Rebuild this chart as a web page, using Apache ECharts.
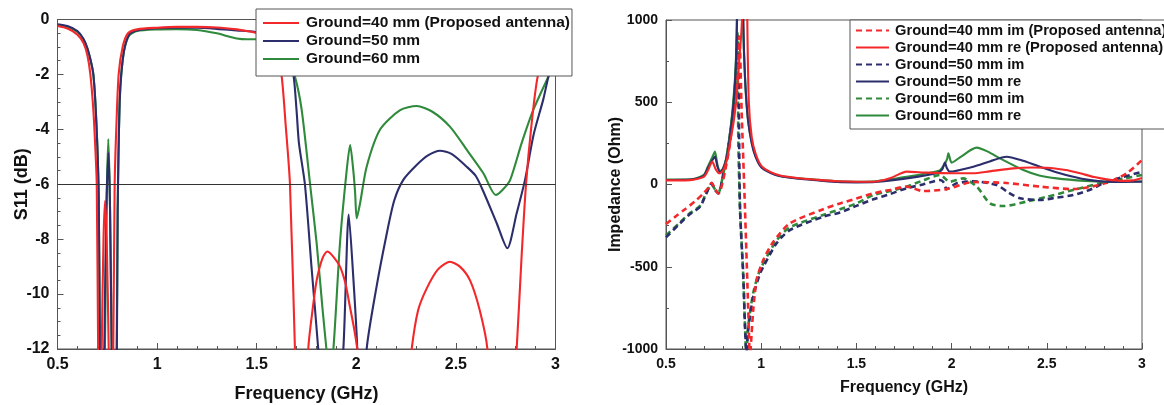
<!DOCTYPE html>
<html>
<head>
<meta charset="utf-8">
<script src="https://cdn.jsdelivr.net/npm/echarts@6/dist/echarts.min.js"></script>
<style>
  html, body { margin: 0; padding: 0; background: #fff; }
  #chart { width: 1164px; height: 405px; }
</style>
</head>
<body>
<div id="chart"></div>
<script>
// ---------- S11 (dB) vs frequency (GHz) ----------
const s11Freq40 = [0.50,0.55,0.60,0.63,0.65,0.665,0.68,0.69,0.697,0.704,0.712,0.722,0.731,0.739,0.747,0.757,0.768,0.78,0.787,0.795,0.807,0.827,0.854,0.90,1.0,1.1,1.2,1.3,1.4,1.45,1.5,1.55,1.6,1.625,1.645,1.667,1.692,1.73,1.759,1.78,1.801,1.83,1.854,1.88,1.918,1.945,1.968,1.99,2.005,2.15,2.278,2.31,2.353,2.41,2.47,2.52,2.571,2.62,2.658,2.73,2.805,2.83,2.852,2.88,2.91,2.95,3.0];
const s11Db40 = [-0.24,-0.33,-0.55,-0.85,-1.3,-2.0,-3.3,-4.7,-6.0,-12,-18,-12,-8,-6.6,-8,-12,-18,-12,-6,-4,-2,-1,-0.5,-0.36,-0.3,-0.27,-0.27,-0.29,-0.36,-0.42,-0.5,-0.69,-1.35,-2.05,-3.8,-6.0,-12,-20,-12,-10.6,-9.5,-8.7,-8.45,-8.6,-9.0,-9.6,-10.46,-11.3,-12,-20,-12,-10.6,-9.8,-9.1,-8.82,-9.0,-9.5,-10.6,-12,-20,-12,-8.6,-6,-3.8,-2.1,-1.2,-0.7];

const s11Freq50 = [0.50,0.55,0.60,0.63,0.65,0.67,0.68,0.69,0.70,0.707,0.713,0.722,0.735,0.745,0.756,0.764,0.772,0.785,0.798,0.802,0.806,0.812,0.82,0.835,0.86,0.90,1.0,1.1,1.2,1.3,1.4,1.48,1.55,1.6,1.65,1.684,1.70,1.712,1.742,1.775,1.809,1.87,1.935,1.962,1.985,2.005,2.02,2.052,2.10,2.15,2.19,2.236,2.303,2.36,2.42,2.48,2.554,2.60,2.64,2.705,2.758,2.805,2.847,2.89,2.939,2.964,3.0];
const s11Db50 = [-0.17,-0.24,-0.42,-0.7,-1.05,-1.6,-2.0,-3.0,-4.6,-6.5,-12,-18,-12,-7,-4.85,-7,-12,-18,-12,-7,-5,-3,-2,-1.1,-0.55,-0.4,-0.32,-0.3,-0.3,-0.34,-0.4,-0.44,-0.55,-0.75,-1.11,-2.0,-3.3,-4.5,-6.0,-9.0,-12,-18,-12,-7.1,-9.4,-12,-16,-12,-9.8,-7.9,-6.6,-5.84,-5.3,-4.95,-4.78,-4.9,-5.36,-5.7,-6.3,-7.42,-8.33,-7.06,-5.84,-4.2,-2.9,-2.1,-1.3];

const s11Freq60 = [0.50,0.55,0.60,0.63,0.65,0.67,0.68,0.69,0.70,0.707,0.713,0.722,0.738,0.747,0.755,0.763,0.772,0.785,0.797,0.802,0.806,0.812,0.82,0.835,0.86,0.90,1.0,1.1,1.2,1.3,1.35,1.4,1.45,1.5,1.55,1.6,1.65,1.692,1.726,1.768,1.801,1.83,1.85,1.865,1.885,1.918,1.952,1.969,1.985,1.994,2.002,2.019,2.052,2.12,2.22,2.303,2.38,2.47,2.56,2.638,2.70,2.735,2.772,2.83,2.888,2.964,3.0];
const s11Db60 = [-0.2,-0.27,-0.45,-0.72,-1.05,-1.6,-2.0,-3.0,-4.6,-6.5,-12,-18,-12,-6.5,-4.35,-6.5,-12,-18,-12,-7,-5,-3,-2,-1.1,-0.58,-0.42,-0.36,-0.35,-0.38,-0.5,-0.6,-0.69,-0.72,-0.72,-0.72,-0.9,-1.3,-2.08,-3.3,-6.0,-8.15,-10.5,-12,-13,-12,-8.15,-5.48,-4.57,-5.5,-6.3,-7.24,-6.69,-5.36,-4.0,-3.3,-3.15,-3.35,-3.9,-4.8,-5.6,-6.39,-6.2,-5.85,-4.5,-3.3,-2.08,-1.5];

// ---------- Impedance (Ohm) vs frequency (GHz) ----------
const reFreq40 = [0.5,0.6,0.65,0.7,0.72,0.743,0.76,0.78,0.8,0.82,0.836,0.855,0.87,0.885,0.899,0.912,0.927,0.935,0.95,0.97,1.0,1.05,1.1,1.2,1.3,1.4,1.5,1.59,1.68,1.764,1.869,2.0,2.114,2.2,2.324,2.42,2.5,2.6,2.674,2.75,2.815,2.9,2.95,3.0];
const re40 = [25,25,30,48,85,139,95,68,85,150,250,380,520,760,1000,2600,1000,500,290,190,115,75,55,38,28,20,17,17,40,78,72,68,68,80,98,103,102,88,68,45,31,22,25,40];
const imFreq40 = [0.5,0.55,0.6,0.65,0.7,0.725,0.74,0.755,0.775,0.79,0.81,0.836,0.871,0.885,0.897,0.915,0.932,0.941,0.95,0.958,0.976,1.011,1.064,1.151,1.326,1.414,1.5,1.589,1.676,1.764,1.851,1.974,2.114,2.289,2.464,2.639,2.815,2.92,3.0];
const im40 = [-240,-195,-150,-105,-50,-15,10,-20,-55,-20,80,250,655,900,453,-155,-763,-1050,-900,-763,-580,-459,-348,-236,-150,-115,-85,-54,-33,-13,-40,-28,15,9,-13,-28,10,68,149];

const reFreq50 = [0.5,0.6,0.65,0.7,0.72,0.745,0.757,0.77,0.784,0.8,0.82,0.84,0.855,0.866,0.873,0.89,0.906,0.915,0.93,0.95,0.97,1.0,1.05,1.1,1.2,1.3,1.4,1.5,1.6,1.764,1.921,1.95,1.965,1.975,1.99,2.114,2.2,2.289,2.36,2.464,2.55,2.639,2.72,2.815,2.9,3.0];
const re50 = [27,28,33,55,100,150,170,110,75,95,170,330,500,700,1000,2600,1000,650,400,250,170,105,70,50,35,25,15,13,15,37,68,90,133,100,78,108,140,169,150,108,75,47,28,17,16,17];
const imFreq50 = [0.5,0.574,0.62,0.679,0.71,0.74,0.755,0.775,0.8,0.819,0.853,0.866,0.874,0.878,0.884,0.889,0.906,0.915,0.924,0.93,0.958,0.994,1.011,1.081,1.151,1.326,1.414,1.5,1.589,1.676,1.764,1.85,1.939,1.96,1.974,2.0,2.027,2.114,2.237,2.3,2.359,2.464,2.55,2.639,2.73,2.815,2.9,3.0];
const im50 = [-321,-236,-185,-135,-60,7,-30,-54,60,169,453,650,850,900,300,-155,-560,-864,-1050,-900,-682,-540,-500,-357,-277,-196,-170,-130,-90,-58,-23,0,27,10,-29,-10,7,20,-3,-50,-84,-94,-80,-64,-30,17,45,78];

const reFreq60 = [0.5,0.6,0.65,0.7,0.72,0.745,0.757,0.77,0.784,0.8,0.82,0.84,0.855,0.866,0.872,0.889,0.905,0.915,0.93,0.95,0.97,1.0,1.05,1.1,1.2,1.3,1.4,1.5,1.6,1.764,1.9,1.94,1.975,1.983,1.993,2.0,2.05,2.132,2.19,2.254,2.377,2.46,2.552,2.7,2.815,2.9,3.0];
const re60 = [30,30,35,60,110,170,200,120,80,100,180,350,530,720,1000,2600,1000,650,400,260,175,110,72,52,37,28,20,17,20,47,75,88,150,190,150,133,170,224,200,159,88,55,37,22,17,17,20];
const imFreq60 = [0.5,0.574,0.62,0.679,0.71,0.74,0.755,0.775,0.8,0.819,0.853,0.866,0.872,0.876,0.88,0.889,0.906,0.915,0.922,0.93,0.958,0.994,1.081,1.151,1.326,1.414,1.5,1.589,1.676,1.764,1.85,1.94,1.99,2.061,2.132,2.202,2.272,2.394,2.5,2.639,2.815,2.9,3.0];
const im60 = [-310,-230,-180,-130,-55,0,-25,-50,60,169,453,650,850,920,250,-155,-560,-864,-1050,-880,-660,-520,-340,-260,-185,-150,-115,-64,-40,-13,25,58,17,37,-13,-115,-131,-104,-75,-33,17,35,58];

// tick values shared by both frequency axes
const freqTicks = { min: 0.5, max: 3, interval: 0.5 };

const RED = '#f3282a', BLUE = '#2c2e6c', GREEN = '#2f8a3b';
const FONT = '"Liberation Sans", Arial, sans-serif';

const zip = (xs, ys) => xs.map((x, i) => [x, ys[i]]);

function lineSeries(name, xs, ys, color, axisIdx, dashed) {
  return {
    name, type: 'line', xAxisIndex: axisIdx, yAxisIndex: axisIdx,
    data: zip(xs, ys), symbol: 'none', clip: true, smooth: 0.25,
    lineStyle: { color, width: dashed ? 2.6 : 2.1, type: dashed ? [6, 4] : 'solid' },
    itemStyle: { color }
  };
}

const axisCommon = (fontSize, nameSize) => ({
  axisLine: { show: true, onZero: false, lineStyle: { color: '#555', width: 1 } },
  axisTick: { show: true, inside: true, length: 6, lineStyle: { color: '#555' } },
  splitLine: { show: false },
  axisLabel: { color: '#111', fontWeight: 'bold', fontSize, fontFamily: FONT, formatter: v => String(v) },
  nameMoveOverlap: false,
  nameTextStyle: { color: '#111', fontWeight: 'bold', fontSize: nameSize, fontFamily: FONT },
});
const minor = n => ({ show: true, splitNumber: n, length: 3, lineStyle: { color: '#555' } });

const s11Series = [
  lineSeries('Ground=60 mm', s11Freq60, s11Db60, GREEN, 0, false),
  lineSeries('Ground=50 mm', s11Freq50, s11Db50, BLUE, 0, false),
  lineSeries('Ground=40 mm (Proposed antenna)', s11Freq40, s11Db40, RED, 0, false),
];
// -6 dB reference line
s11Series[2].markLine = {
  silent: true, symbol: ['none', 'none'], animation: false,
  label: { show: false },
  lineStyle: { color: '#333', width: 1, type: 'solid' },
  data: [{ yAxis: -6 }]
};

const zSeries = [
  lineSeries('Ground=60 mm im', imFreq60, im60, GREEN, 1, true),
  lineSeries('Ground=50 mm im', imFreq50, im50, BLUE, 1, true),
  lineSeries('Ground=40 mm im (Proposed antenna)', imFreq40, im40, RED, 1, true),
  lineSeries('Ground=60 mm re', reFreq60, re60, GREEN, 1, false),
  lineSeries('Ground=50 mm re', reFreq50, re50, BLUE, 1, false),
  lineSeries('Ground=40 mm re (Proposed antenna)', reFreq40, re40, RED, 1, false),
];

const legendCommon = {
  orient: 'vertical', selectedMode: false,
  backgroundColor: '#fff', borderColor: '#555', borderWidth: 1, borderRadius: 0,
  itemStyle: { opacity: 0 },
};

const chart = echarts.init(document.getElementById('chart'), null, { renderer: 'canvas' });
chart.setOption({
  animation: false,
  backgroundColor: '#fff',
  grid: [
    { left: 57.5, right: 608.5, top: 19.5, bottom: 56, outerBoundsMode: 'none', containLabel: false,
      show: true, borderColor: '#555', borderWidth: 1 },
    { left: 666, right: 22, top: 20, bottom: 56, outerBoundsMode: 'none', containLabel: false,
      show: true, borderColor: '#555', borderWidth: 1 },
  ],
  xAxis: [
    Object.assign(axisCommon(16, 18), {
      type: 'value', gridIndex: 0, ...freqTicks, minorTick: minor(5),
      name: 'Frequency (GHz)', nameLocation: 'middle', nameGap: 36,
    }),
    Object.assign(axisCommon(14, 16), {
      type: 'value', gridIndex: 1, ...freqTicks, minorTick: minor(5),
      name: 'Frequency (GHz)', nameLocation: 'middle', nameGap: 31,
    }),
  ],
  yAxis: [
    Object.assign(axisCommon(16, 18), {
      type: 'value', gridIndex: 0, min: -12, max: 0, interval: 2, minorTick: minor(4),
      name: 'S11 (dB)', nameLocation: 'middle', nameGap: 26,
    }),
    Object.assign(axisCommon(14, 16), {
      type: 'value', gridIndex: 1, min: -1000, max: 1000, interval: 500, minorTick: minor(2),
      name: 'Impedance (Ohm)', nameLocation: 'middle', nameGap: 42,
    }),
  ],
  legend: [
    Object.assign({}, legendCommon, {
      data: ['Ground=40 mm (Proposed antenna)', 'Ground=50 mm', 'Ground=60 mm'],
      left: 256, top: 9,
      itemWidth: 36, itemHeight: 14, itemGap: 2, padding: [6, 2, 9, 6],
      textStyle: { color: '#111', fontWeight: 'bold', fontSize: 15.5, fontFamily: FONT, padding: [0, 0, 0, 2] },
    }),
    Object.assign({}, legendCommon, {
      data: ['Ground=40 mm im (Proposed antenna)', 'Ground=40 mm re (Proposed antenna)',
             'Ground=50 mm im', 'Ground=50 mm re', 'Ground=60 mm im', 'Ground=60 mm re'],
      left: 850, top: 20,
      itemWidth: 33, itemHeight: 12, itemGap: 2, padding: [3, 4, 6, 5],
      textStyle: { color: '#111', fontWeight: 'bold', fontSize: 14.7, fontFamily: FONT, padding: [0, 0, 0, 1] },
    }),
  ],
  series: [...s11Series, ...zSeries],
});
</script>
</body>
</html>
